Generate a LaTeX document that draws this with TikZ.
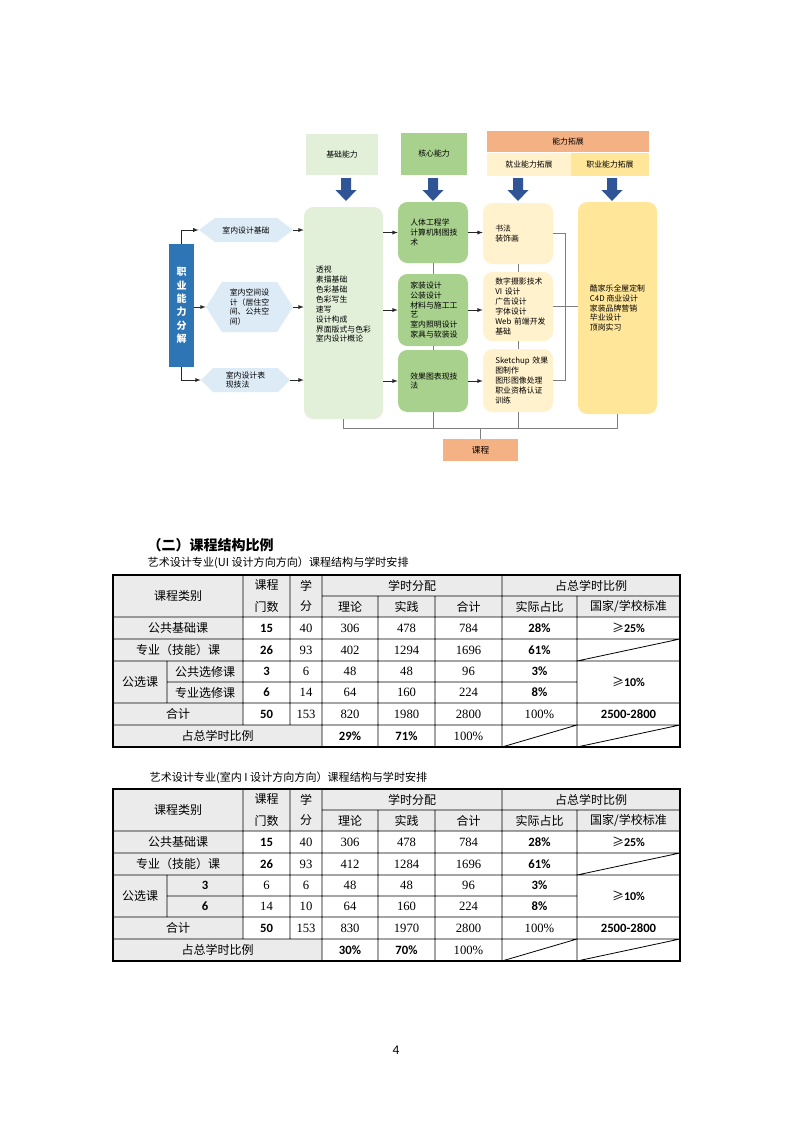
\documentclass[tikz,border=0pt]{standalone}
\usepackage{fontspec}
\setmainfont{Noto Sans CJK SC}
\newfontfamily\numserif{Liberation Serif}
\newfontfamily\numsans{Carlito}
\usetikzlibrary{shapes.symbols}

\definecolor{paleg}{HTML}{E2F0D9}
\definecolor{midg}{HTML}{A9D18E}
\definecolor{salmon}{HTML}{F4B183}
\definecolor{paley}{HTML}{FFF2CC}
\definecolor{midy}{HTML}{FFE699}
\definecolor{barblue}{HTML}{2E75B6}
\definecolor{hexblue}{HTML}{DDEBF7}
\definecolor{arrowblue}{HTML}{2F5597}
\definecolor{linegray}{HTML}{7F7F7F}
\definecolor{headgray}{HTML}{EBEBEB}

\tikzset{
  dg/.style={font=\fontsize{5.9}{7.4}\selectfont},
  hdr/.style={dg,inner sep=0pt},
  box/.style={dg,rounded corners=7pt,align=left,inner sep=0pt},
  sbox/.style={box,text width=34pt},
  hexa/.style={dg,signal,signal to=west and east,fill=hexblue,align=left,inner sep=0pt},
  link/.style={->,>=latex,draw=black!85,thin},
  bus/.style={draw=linegray,thin},
  lab/.style={font=\fontsize{9}{10}\selectfont},
  sn/.style={font=\numsans\bfseries\fontsize{9.5}{10}\selectfont},
  rn/.style={font=\numserif\fontsize{9.5}{10}\selectfont},
}

\begin{document}
\begin{tikzpicture}[x=0.75pt,y=-0.75pt]
\useasboundingbox (0,0) rectangle (793,1122);

% headers
\node [hdr,fill=paleg,minimum width=54pt,minimum height=30.75pt] (hbase) at (342,154.5) {基础能力};
\node [hdr,fill=midg,minimum width=49.5pt,minimum height=31.5pt] (hcore) at (434,154) {核心能力};
\node [hdr,fill=salmon,minimum width=121.5pt,minimum height=15.75pt] (hext) at (568,141.5) {能力拓展};
\node [hdr,fill=paley,minimum width=63pt,minimum height=17.25pt,anchor=north west] (hemp) at (hext.south west) {就业能力拓展};
\node [hdr,fill=midy,minimum width=58.5pt,minimum height=17.25pt,anchor=north east] (hocc) at (hext.south east) {职业能力拓展};

\foreach \x in {346,433,518,612}
  \fill [arrowblue] (\x-5,178) -- ++(10,0) -- ++(0,12) -- ++(5.5,0) -- (\x,201) -- ++(-10.5,-11) -- ++(5.5,0) -- cycle;

% left side
\node [fill=barblue,minimum width=18.75pt,minimum height=92.25pt,text=white,align=center,inner sep=0pt,
  font=\bfseries\fontsize{7.5}{10}\selectfont] (bar) at (181.5,305.5) {职\\业\\能\\力\\分\\解};

\node [hexa,signal pointer angle=74,minimum width=70.5pt,minimum height=18pt] (hex1) at (246,230) {室内设计基础};
\node [hexa,signal pointer angle=115,minimum width=65.25pt,minimum height=37.5pt] (hex2) at (249.5,307) {室内空间设\\计（居住空\\间、公共空\\间）};
\node [hexa,signal pointer angle=90,minimum width=66.75pt,minimum height=18pt] (hex3) at (245.5,380) {室内设计表\\现技法};

% course boxes
\node [box,fill=paleg,minimum width=59.25pt,minimum height=159pt] (base) at (343.5,313)
  {透视\\素描基础\\色彩基础\\色彩写生\\速写\\设计构成\\界面版式与色彩\\室内设计概论\\[6pt]};

\node [sbox,fill=midg,minimum width=52.5pt,minimum height=45.75pt] (c1) at (433,232.5) {人体工程学\\计算机制图技\\术};
\node [sbox,fill=midg,minimum width=52.5pt,minimum height=54pt] (c2) at (433,310) {家装设计\\公装设计\\材料与施工工\\艺\\室内照明设计\\家具与软装设};
\node [sbox,fill=midg,minimum width=52.5pt,minimum height=46.5pt] (c3) at (433,381) {效果图表现技\\法};

\node [sbox,fill=paley,minimum width=52.5pt,minimum height=45.75pt] (e1) at (518,233.5) {书法\\装饰画};
\node [sbox,fill=paley,minimum width=52.5pt,minimum height=51.75pt] (e2) at (518,306.5) {数字摄影技术\\VI~设计\\广告设计\\字体设计\\Web~前端开发\\基础};
\node [sbox,fill=paley,minimum width=52.5pt,minimum height=47.25pt] (e3) at (518,380.5) {Sketchup~效果\\图制作\\图形图像处理\\职业资格认证\\训练};

\node [box,fill=midy,minimum width=59.25pt,minimum height=159pt] (occ) at (617.5,308)
  {酷家乐全屋定制\\C4D 商业设计\\家装品牌营销\\毕业设计\\顶岗实习};

\node [hdr,fill=salmon,minimum width=56.25pt,minimum height=16.5pt,font=\fontsize{6.5}{8}\selectfont] (course) at (480.5,450) {课程};

\coordinate (bus) at (0,428);
\coordinate (brk) at (565,0);

\draw [link] (bar.north) |- (hex1.west);
\draw [link] (bar.east |- hex2.west) -- (hex2.west);
\draw [link] (bar.south) |- (hex3.west);
\foreach \a in {hex1,hex2,hex3}
  \draw [link] (\a.east) -- (\a.east -| base.west);
\foreach \b in {c1,c2,c3}
  \draw [link] (\b.west -| base.east) -- (\b.west);
\foreach \a/\b in {c1/e1,c2/e2,c3/e3}
  \draw [link] (\a.east) -- (\a.east -| \b.west);

\path [bus]
    (base.south) -- (base.south |- bus) -- (occ.south |- bus) -- (occ.south)
    (c3.south) -- (c3.south |- bus)
    (e3.south) -- (e3.south |- bus)
    (course.north) -- (course.north |- bus)
    (c1.south) -- (c2.north) (c2.south) -- (c3.north)
    (e1.south) -- (e2.north) (e2.south) -- (e3.north)
    (e1.east) -- (e1.east -| brk) -- (e3.east -| brk) -- (e3.east)
    (e2.east) -- (e2.east -| occ.west)
;

% tables
\node [anchor=west,font=\bfseries\fontsize{10.5}{12}\selectfont] (title) at (143,545) {（二）课程结构比例};
\node [anchor=west,font=\fontsize{8.3}{10}\selectfont] (capa) at (143,563) {艺术设计专业(UI 设计方向方向）课程结构与学时安排};
\node [anchor=west,font=\fontsize{8.3}{10}\selectfont] (capb) at (145,778) {艺术设计专业(室内 I 设计方向方向）课程结构与学时安排};

\foreach \ty/\tb in {575/a,789/b} {
  \begin{scope}[shift={(0,\ty)}]
    \fill [headgray] (113,0) rectangle (680,42) (113,42) rectangle (243,150) (113,150) rectangle (322,172);
    \path [draw,line width=0.6pt]
        (113,42) -- (680,42) (113,64) -- (680,64) (113,86) -- (680,86)
        (113,128) -- (680,128) (113,150) -- (680,150)
        (322,21) -- (680,21) (167,107) -- (577,107)
        (243,0) -- (243,150) (290,0) -- (290,150) (322,0) -- (322,172)
        (378,21) -- (378,172) (435,21) -- (435,172) (502,0) -- (502,172)
        (577,21) -- (577,172) (167,86) -- (167,128)
        (577,86) -- (680,64) (502,172) -- (577,150) (577,172) -- (680,150)
    ;
    \draw [line width=1.1pt] (113,0) rectangle (680,172);
    \foreach \x/\y/\sty/\txt [count=\i] in {
        178/21/lab/课程类别, 266.5/10.5/lab/课程, 266.5/31.5/lab/门数,
        306/10.5/lab/学, 306/31.5/lab/分, 412/10.5/lab/学时分配,
        350/31.5/lab/理论, 406.5/31.5/lab/实践, 468.5/31.5/lab/合计,
        591/10.5/lab/占总学时比例, 539.5/31.5/lab/实际占比, 628.5/31.5/lab/{国家/学校标准},
        178/53/lab/公共基础课, 266.5/53/sn/15, 306/53/rn/40, 350/53/rn/306, 406.5/53/rn/478,
        468.5/53/rn/784, 539.5/53/sn/28\%, 628.5/53/lab/{≥{\numsans\bfseries 25\%}},
        178/75/lab/专业（技能）课, 266.5/75/sn/26, 306/75/rn/93, 468.5/75/rn/1696, 539.5/75/sn/61\%,
        140/107/lab/公选课, 350/96.5/rn/48, 406.5/96.5/rn/48, 468.5/96.5/rn/96, 539.5/96.5/sn/3\%,
        628.5/107/lab/{≥{\numsans\bfseries 10\%}},
        350/117.5/rn/64, 406.5/117.5/rn/160, 468.5/117.5/rn/224, 539.5/117.5/sn/8\%,
        178/139/lab/合计, 266.5/139/sn/50, 306/139/rn/153, 468.5/139/rn/2800,
        539.5/139/rn/100\%, 628.5/139/sn/2500-2800,
        217.5/161/lab/占总学时比例, 468.5/161/rn/100\%}
      \node [\sty] (\tb\i) at (\x,\y) {\txt};
  \end{scope}
}

\begin{scope}[shift={(0,575)}]
  \foreach \x/\y/\sty/\txt [count=\i] in {
      350/75/rn/402, 406.5/75/rn/1294,
      205/96.5/lab/公共选修课, 266.5/96.5/sn/3, 306/96.5/rn/6,
      205/117.5/lab/专业选修课, 266.5/117.5/sn/6, 306/117.5/rn/14,
      350/139/rn/820, 406.5/139/rn/1980,
      350/161/sn/29\%, 406.5/161/sn/71\%}
    \node [\sty] (ua\i) at (\x,\y) {\txt};
\end{scope}

\begin{scope}[shift={(0,789)}]
  \foreach \x/\y/\sty/\txt [count=\i] in {
      350/75/rn/412, 406.5/75/rn/1284,
      205/96.5/sn/3, 266.5/96.5/rn/6, 306/96.5/rn/6,
      205/117.5/sn/6, 266.5/117.5/rn/14, 306/117.5/rn/10,
      350/139/rn/830, 406.5/139/rn/1970,
      350/161/sn/30\%, 406.5/161/sn/70\%}
    \node [\sty] (ub\i) at (\x,\y) {\txt};
\end{scope}

\node [font=\numsans\fontsize{10}{12}\selectfont] (pageno) at (396,1050) {4};

\end{tikzpicture}
\end{document}
